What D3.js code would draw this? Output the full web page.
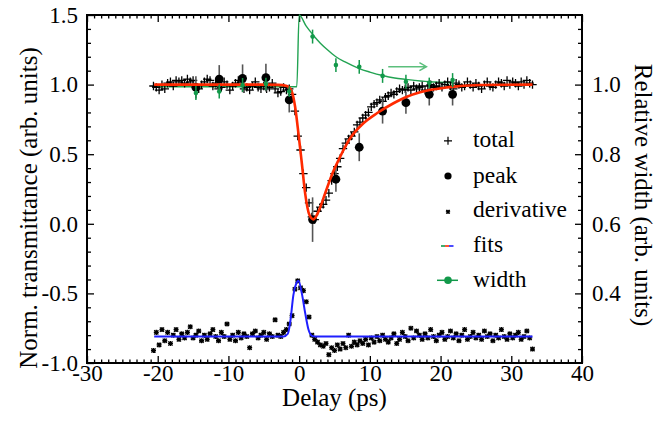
<!DOCTYPE html>
<html><head><meta charset="utf-8">
<script src="https://cdn.jsdelivr.net/npm/d3@7"></script>
<style>
@font-face{font-family:"ChartSerif";src:local("Liberation Serif"),local("LiberationSerif"),local("LiberationSerif-Regular"),local("Times New Roman"),local("Tinos"),local("Nimbus Roman"),local("FreeSerif");}
html,body{margin:0;padding:0;background:#fff;}
svg{display:block;}
</style>
</head>
<body><svg id="c" width="657" height="430"></svg>
<script>
// ---------------- data ----------------
const delays = [-20.6,-20.2,-19.8,-19.4,-19.0,-18.6,-18.2,-17.8,-17.4,-17.0,
 -16.6,-16.2,-15.8,-15.4,-15.0,-14.6,-14.2,-13.8,-13.4,-13.0,
 -12.6,-12.2,-11.8,-11.4,-11.0,-10.6,-10.2,-9.8,-9.4,-9.0,
 -8.6,-8.2,-7.8,-7.4,-7.0,-6.6,-6.2,-5.8,-5.4,-5.0,
 -4.6,-4.2,-3.8,-3.4,-3.0,-2.6,-2.2,-1.8,-1.4,-1.0,
 -0.6,-0.2,0.2,0.6,1.0,1.4,1.8,2.2,2.6,3.0,
 3.4,3.8,4.2,4.6,5.0,5.4,5.8,6.2,6.6,7.0,
 7.4,7.8,8.2,8.6,9.0,9.4,9.8,10.2,10.6,11.0,
 11.4,11.8,12.2,12.6,13.0,13.4,13.8,14.2,14.6,15.0,
 15.4,15.8,16.2,16.6,17.0,17.4,17.8,18.2,18.6,19.0,
 19.4,19.8,20.2,20.6,21.0,21.4,21.8,22.2,22.6,23.0,
 23.4,23.8,24.2,24.6,25.0,25.4,25.8,26.2,26.6,27.0,
 27.4,27.8,28.2,28.6,29.0,29.4,29.8,30.2,30.6,31.0,
 31.4,31.8,32.2,32.6,33.0];
const total = [0.99,0.98,0.96,1.00,0.97,1.01,1.02,0.99,1.03,1.02,
 1.03,1.01,1.04,1.02,1.03,0.98,0.97,1.00,1.02,1.04,
 1.03,0.99,1.01,0.97,0.98,1.02,1.00,0.96,0.99,1.01,
 1.03,1.02,0.97,0.98,0.96,0.99,1.02,0.98,0.97,0.99,
 0.97,0.98,1.01,0.97,0.94,0.95,0.98,0.96,0.97,0.93,
 0.81,0.63,0.53,0.36,0.26,0.15,0.05,0.03,0.09,0.12,
 0.14,0.17,0.22,0.31,0.36,0.41,0.47,0.54,0.58,0.61,
 0.63,0.66,0.71,0.73,0.76,0.78,0.80,0.84,0.86,0.87,
 0.89,0.88,0.91,0.92,0.94,0.93,0.95,0.97,0.96,0.97,
 0.98,0.96,0.99,0.97,0.98,0.99,0.96,0.99,1.00,0.98,
 0.99,1.01,0.98,1.00,1.02,0.99,0.97,1.01,1.00,0.98,
 0.99,1.02,1.00,0.98,1.01,0.99,0.97,1.00,1.02,0.99,
 0.98,1.00,1.02,1.01,0.99,1.03,1.00,1.02,1.01,0.99,
 1.02,1.00,1.03,1.01,1.00];
const derivative = [-0.91,-0.78,-0.87,-0.76,-0.84,-0.78,-0.86,-0.80,-0.76,-0.83,
 -0.79,-0.82,-0.78,-0.74,-0.82,-0.80,-0.77,-0.84,-0.80,-0.83,
 -0.79,-0.76,-0.81,-0.84,-0.78,-0.81,-0.72,-0.83,-0.80,-0.84,
 -0.78,-0.82,-0.79,-0.81,-0.89,-0.79,-0.77,-0.82,-0.80,-0.78,
 -0.83,-0.79,-0.81,-0.69,-0.80,-0.81,-0.78,-0.76,-0.72,-0.66,
 -0.47,-0.41,-0.46,-0.48,-0.56,-0.67,-0.80,-0.83,-0.85,-0.87,
 -0.88,-0.86,-0.94,-0.89,-0.91,-0.87,-0.90,-0.86,-0.89,-0.80,
 -0.88,-0.85,-0.87,-0.84,-0.86,-0.83,-0.87,-0.82,-0.85,-0.81,
 -0.84,-0.80,-0.83,-0.85,-0.82,-0.79,-0.86,-0.83,-0.78,-0.81,
 -0.84,-0.75,-0.82,-0.77,-0.80,-0.83,-0.79,-0.82,-0.76,-0.81,
 -0.84,-0.80,-0.78,-0.83,-0.81,-0.77,-0.82,-0.79,-0.84,-0.80,
 -0.76,-0.83,-0.81,-0.78,-0.82,-0.80,-0.83,-0.77,-0.81,-0.79,
 -0.84,-0.80,-0.82,-0.76,-0.81,-0.83,-0.79,-0.82,-0.80,-0.78,
 -0.83,-0.81,-0.77,-0.82,-0.90];

const peakDelays = [-14.6,-11.3,-8.0,-4.7,-1.4,1.9,5.2,8.5,11.8,15.1,18.4,21.7];
const peakValues = [0.98,1.04,1.045,1.05,0.89,0.03,0.32,0.55,0.81,0.87,0.93,0.93];
const peakErrors = [0.08,0.10,0.10,0.10,0.09,0.16,0.09,0.10,0.09,0.08,0.08,0.08];
const widthValues = [0.976,0.98,0.999,1.002,0.98,1.138,1.056,1.051,1.025,1.008,1.005,1.013];
const widthErrors = [0.02,0.02,0.02,0.018,0.015,0.02,0.02,0.02,0.02,0.02,0.015,0.02];

// fit curves
const totalFitX = [-20.5,-5.5,-3.0,-1.74,-1.03,-0.57,-0.1,0.38,0.85,1.46,2.02,2.73,3.68,4.62,5.8,7.21,9.09,10.99,13.34,15.23,17.11,20.9,25.6,33.0];
const totalFitY = [1.0,1.0,0.998,0.99,0.949,0.841,0.65,0.435,0.219,0.063,0.032,0.087,0.219,0.351,0.482,0.614,0.722,0.794,0.866,0.913,0.945,0.98,0.997,1.0];
const derivFitX = [-20.5,-2.2,-1.6,-1.27,-0.81,-0.42,-0.1,0.38,0.85,1.32,1.8,2.3,33.0];
const derivFitY = [-0.81,-0.81,-0.79,-0.71,-0.51,-0.43,-0.41,-0.50,-0.64,-0.76,-0.805,-0.81,-0.81];
const widthFitX = [-20.5,-0.33,0.0,1.0,2.0,3.0,4.0,5.2,6.5,8.5,10.0,11.8,13.5,15.1,18.4,21.8];
const widthFitY = [0.994,0.994,1.2,1.168,1.142,1.119,1.10,1.08,1.065,1.046,1.036,1.026,1.019,1.015,1.008,1.005];

const xTicks = [-30,-20,-10,0,10,20,30,40];
const yLeftTicks = [-1.0,-0.5,0.0,0.5,1.0,1.5];
const yRightTicks = [0.4,0.6,0.8,1.0];
const legendLabels = ["total","peak","derivative","fits","width"];
const arrowFrom = [12.6,1.129], arrowTo = [18.0,1.129];

// ---------------- drawing ----------------
const FONT = `"Liberation Serif", "ChartSerif", "Times New Roman", serif`;
const svg = d3.select("#c");
const L=87,R=582,T=15,B=363;
const x = d3.scaleLinear().domain([-30,40]).range([L,R]);
const yL = d3.scaleLinear().domain([-1,1.5]).range([B,T]);
const yR = d3.scaleLinear().domain([0.2,1.2]).range([B,T]);
const FS = 23;

function setFont(sel,size){ sel.attr("font-family",FONT).style("font-family",FONT).style("font-size",size+"px").attr("fill","#000"); return sel; }
function axisStyle(g){ g.attr("font-family",null).attr("font-size",null); g.select(".domain").remove(); g.selectAll("line").attr("stroke","#000").attr("stroke-width",1.3); setFont(g.selectAll("text"),FS); }

const xMinor = d3.range(-30,41,1).filter(v=>v%10!==0);
const yLMinor = d3.range(-10,16,1).map(v=>v/10).filter(v=>Math.abs(v*2-Math.round(v*2))>1e-6);
const yRMinor = d3.range(5,31,1).map(v=>v*0.04).filter(v=>v>0.2001&&v<1.1999&&!yRightTicks.some(t=>Math.abs(t-v)<1e-6));

svg.append("g").attr("transform",`translate(0,${B})`).call(d3.axisBottom(x).tickValues(xTicks).tickSize(-7).tickPadding(2).tickFormat(d=>String(d))).call(axisStyle);
svg.append("g").attr("transform",`translate(0,${B})`).call(d3.axisBottom(x).tickValues(xMinor).tickSize(-3.5).tickFormat("")).call(axisStyle);
svg.append("g").attr("transform",`translate(0,${T})`).call(d3.axisTop(x).tickValues(xTicks).tickSize(-7).tickFormat("")).call(axisStyle);
svg.append("g").attr("transform",`translate(0,${T})`).call(d3.axisTop(x).tickValues(xMinor).tickSize(-3.5).tickFormat("")).call(axisStyle);
svg.append("g").attr("transform",`translate(${L},0)`).call(d3.axisLeft(yL).tickValues(yLeftTicks).tickSize(-7).tickPadding(9).tickFormat(d=>d.toFixed(1))).call(axisStyle);
svg.append("g").attr("transform",`translate(${L},0)`).call(d3.axisLeft(yL).tickValues(yLMinor).tickSize(-4).tickFormat("")).call(axisStyle);
svg.append("g").attr("transform",`translate(${R},0)`).call(d3.axisRight(yR).tickValues(yRightTicks).tickSize(-7).tickPadding(10).tickFormat(d=>d.toFixed(1))).call(axisStyle);
svg.append("g").attr("transform",`translate(${R},0)`).call(d3.axisRight(yR).tickValues(yRMinor).tickSize(-4).tickFormat("")).call(axisStyle);

svg.append("rect").attr("x",L).attr("y",T).attr("width",R-L).attr("height",B-T)
  .attr("fill","none").attr("stroke","#000").attr("stroke-width",2);

// titles
setFont(svg.append("text").attr("x",(L+R)/2).attr("y",406).attr("text-anchor","middle"),25).text("Delay (ps)");
setFont(svg.append("text").attr("transform","translate(37,208) rotate(-90)").attr("text-anchor","middle"),25).text("Norm. transmittance (arb. units)");
setFont(svg.append("text").attr("transform","translate(635,195) rotate(90)").attr("text-anchor","middle"),25).text("Relative width (arb. units)");

const plot = svg.append("g");
const green = "#12994a", lightGreen="#5cbf7c";
const line = d3.line().curve(d3.curveMonotoneX);

plot.append("path").attr("d", line(widthFitX.map((v,i)=>[x(v),yR(widthFitY[i])])))
  .attr("fill","none").attr("stroke","#22a352").attr("stroke-width",1.4);

const crossPath = (cx,cy,s)=>`M${cx-s},${cy}H${cx+s}M${cx},${cy-s}V${cy+s}`;
plot.append("path").attr("d", delays.map((d,i)=>crossPath(x(d),yL(total[i]),4.2)).join(""))
  .attr("stroke","#000").attr("stroke-width",1.3).attr("fill","none");

const starPath = (cx,cy,s)=>`M${cx-s},${cy-s}L${cx+s},${cy+s}M${cx-s},${cy+s}L${cx+s},${cy-s}M${cx},${cy-s*1.2}V${cy+s*1.2}M${cx-s*1.2},${cy}H${cx+s*1.2}`;
plot.append("path").attr("d", delays.map((d,i)=>starPath(x(d),yL(derivative[i]),2.1)).join(""))
  .attr("stroke","#000").attr("stroke-width",1.3).attr("fill","none");

plot.selectAll(".pe").data(peakDelays).join("line")
  .attr("x1",d=>x(d)).attr("x2",d=>x(d))
  .attr("y1",(d,i)=>yL(peakValues[i]+peakErrors[i])).attr("y2",(d,i)=>yL(peakValues[i]-peakErrors[i]))
  .attr("stroke","#555").attr("stroke-width",1.6);
plot.selectAll(".pd").data(peakDelays).join("circle")
  .attr("cx",d=>x(d)).attr("cy",(d,i)=>yL(peakValues[i])).attr("r",4.4).attr("fill","#000");

plot.append("path").attr("d", line(totalFitX.map((v,i)=>[x(v),yL(totalFitY[i])])))
  .attr("fill","none").attr("stroke","#ff2a00").attr("stroke-width",2.6);
plot.append("path").attr("d", line(derivFitX.map((v,i)=>[x(v),yL(derivFitY[i])])))
  .attr("fill","none").attr("stroke","#1f1fff").attr("stroke-width",2);

plot.selectAll(".we").data(peakDelays).join("line")
  .attr("x1",d=>x(d)).attr("x2",d=>x(d))
  .attr("y1",(d,i)=>yR(widthValues[i]+widthErrors[i])).attr("y2",(d,i)=>yR(widthValues[i]-widthErrors[i]))
  .attr("stroke",green).attr("stroke-width",1.5);
plot.selectAll(".wd").data(peakDelays).join("circle")
  .attr("cx",d=>x(d)).attr("cy",(d,i)=>yR(widthValues[i])).attr("r",2.3).attr("fill",green);

const ax1=x(arrowFrom[0]), ax2=x(arrowTo[0]), ay=yL(arrowFrom[1]);
plot.append("path").attr("d",`M${ax1},${ay}H${ax2}M${ax2-7},${ay-4}L${ax2},${ay}L${ax2-7},${ay+4}`)
  .attr("fill","none").attr("stroke",lightGreen).attr("stroke-width",1.5);

// legend
const lg = svg.append("g");
const lx = 448, tx = 473, baselines=[147.3,182.5,217.3,252,286.8];
legendLabels.forEach((t,i)=>{
  setFont(lg.append("text").attr("x",tx).attr("y",baselines[i]),23.5).text(t);
});
const cy = baselines.map(b=>b-6.5);
lg.append("path").attr("d",crossPath(lx,cy[0],4)).attr("stroke","#000").attr("stroke-width",1.2);
lg.append("circle").attr("cx",lx).attr("cy",cy[1]).attr("r",3.6).attr("fill","#000");
lg.append("path").attr("d",starPath(lx,cy[2]+1,1.8)).attr("stroke","#000").attr("stroke-width",1.1);
[["#12994a",441,445],["#ff2a00",445,449],["#1f1fff",449,453.5]].forEach(s=>{
  lg.append("line").attr("x1",s[1]).attr("x2",s[2]).attr("y1",cy[3]+0.5).attr("y2",cy[3]+0.5).attr("stroke",s[0]).attr("stroke-width",1.6);
});
lg.append("line").attr("x1",437).attr("x2",458).attr("y1",cy[4]).attr("y2",cy[4]).attr("stroke",green).attr("stroke-width",1.5);
lg.append("circle").attr("cx",lx).attr("cy",cy[4]).attr("r",3.8).attr("fill",green);
</script>
</body></html>
